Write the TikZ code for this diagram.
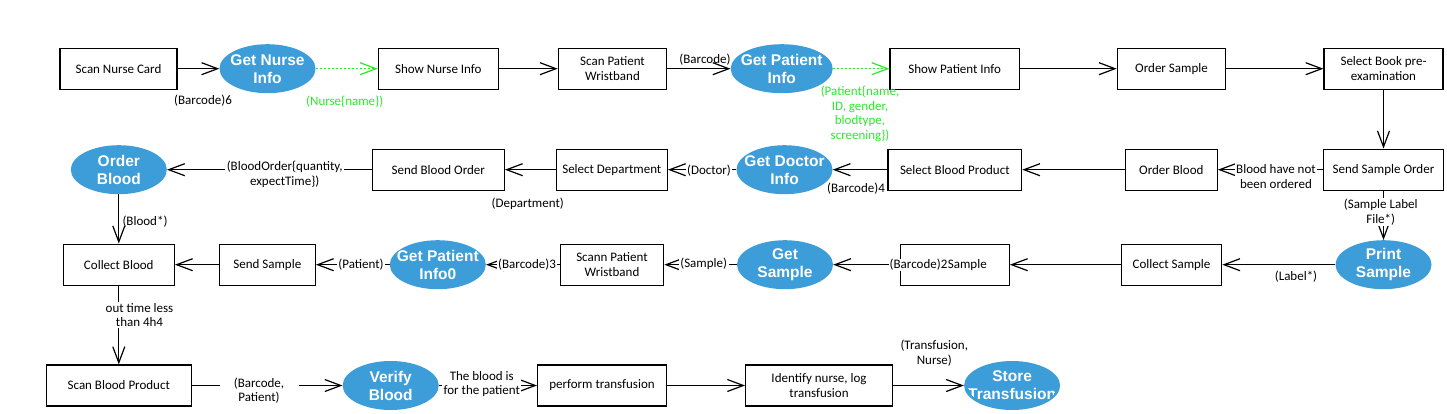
\documentclass[tikz,border=0pt]{standalone}
\usepackage{fontspec}
\setmainfont{Carlito}
\newfontfamily\ellfont{Liberation Sans}
\usetikzlibrary{arrows.meta,shapes.geometric}
\definecolor{ellblue}{RGB}{60,157,216}
\definecolor{lime}{RGB}{40,235,40}
\begin{document}
\begin{tikzpicture}[x=1pt,y=-1pt,
  every node/.style={font=\fontsize{13}{14.5}\selectfont, inner sep=0pt},
  box/.style={draw, line width=1.2pt, minimum height=41pt, align=center},
  elltext/.style={text=white, align=center, font=\ellfont\bfseries\fontsize{15.5}{18}\selectfont},
  ell/.style={ellipse, fill=ellblue, minimum width=96pt, minimum height=49pt,
    path picture={\node[elltext] at (path picture bounding box.center) {#1};}},
  clipell/.style={ellipse, fill=ellblue, minimum width=96pt, minimum height=49pt,
    path picture={\clip (path picture bounding box.center) ellipse [x radius=44.5pt, y radius=23pt];
      \node[elltext] at (path picture bounding box.center) {#1};}},
  conn/.style={line width=1.2pt, -{Straight Barb[length=16pt,width=12pt,line width=1.2pt]}},
  dconn/.style={conn, lime, dash pattern=on 2pt off 2pt},
  lab/.style={align=center},
  wlab/.style={align=center, fill=white, inner sep=1.5pt},
  glab/.style={align=center, text=lime}
]
\useasboundingbox (0,0) rectangle (1447,414);
% row 1
\node[box, minimum width=117pt] (snc) at (118.5,68.7) {Scan Nurse Card};
\node[ell={Get Nurse\\Info}] (gni) at (267.5,68.7) {};
\node[box, minimum width=120pt] (sni) at (438.3,68.7) {Show Nurse Info};
\node[box, minimum width=108.4pt] (spw) at (612.5,68.7) {Scan Patient\\Wristband};
\node[ell={Get Patient\\Info}, minimum width=102pt] (gpi) at (781.7,68.7) {};
\node[box, minimum width=129.3pt] (spi) at (954.7,68.7) {Show Patient Info};
\node[box, minimum width=108.4pt] (os) at (1171.5,68.7) {Order Sample};
\node[box, minimum width=119pt] (sbp) at (1383.5,68.7) {Select Book pre-\\examination};
% row 2
\node[ell={Order\\Blood}] (ob) at (118.8,169.7) {};
\node[box, minimum width=132pt] (sbo) at (438.3,169.7) {Send Blood Order};
\node[box, minimum width=111pt] (sd) at (611.8,169.7) {Select Department};
\node[ell={Get Doctor\\Info}] (gdi) at (784.5,169.7) {};
\node[box, minimum width=133.7pt] (sbpr) at (954.8,169.7) {Select Blood Product};
\node[box, minimum width=92pt] (obx) at (1171.3,169.7) {Order Blood};
\node[box, minimum width=120pt] (sso) at (1383.5,169.7) {Send Sample Order};
% row 3
\node[box, minimum width=111pt] (cb) at (118.8,264.7) {Collect Blood};
\node[box, minimum width=96pt] (ss) at (267.3,264.7) {Send Sample};
\node[ell={Get Patient\\Info0}] (gpi0) at (437.8,264.7) {};
\node[box, minimum width=103.4pt] (spw2) at (612,264.7) {Scann Patient\\Wristband};
\node[ell={Get\\Sample}] (gs) at (785,264.7) {};
\node[box, minimum width=109pt] (sam) at (954.8,264.7) {\hspace*{25pt}Sample};
\node[box, minimum width=100.4pt] (cs) at (1171.5,264.7) {Collect Sample};
\node[ell={Print\\Sample}] (ps) at (1383.5,264.7) {};
% row 4
\node[box, minimum width=145.4pt] (sbpd) at (118.8,385.5) {Scan Blood Product};
\node[ell={Verify\\Blood}] (vb) at (390.7,385.5) {};
\node[box, minimum width=128.9pt] (pt) at (602,385.5) {perform transfusion};
\node[box, minimum width=146.7pt] (inl) at (819,385.5) {Identify nurse, log\\transfusion};
\node[clipell={Store\\Transfusion}] (st) at (1012.1,385.5) {};
% connectors
\draw[conn] (snc) -- (gni);
\draw[dconn] (gni) -- (sni);
\draw[conn] (sni) -- (spw);
\draw[conn] (spw) -- (gpi);
\draw[dconn] (gpi) -- (spi);
\draw[conn] (spi) -- (os);
\draw[conn] (os) -- (sbp);
\draw[conn] (sbp) -- (sso);
\draw[conn] (sso) -- (obx);
\draw[conn] (obx) -- (sbpr);
\draw[conn] (sbpr) -- (gdi);
\draw[conn] (gdi) -- (sd);
\draw[conn] (sd) -- (sbo);
\draw[conn] (sbo) -- (ob);
\draw[conn] (ob) -- (cb);
\draw[conn] (sso) -- (ps);
\draw[conn] (ps) -- (cs);
\draw[conn] (cs) -- (sam);
\draw[conn] (sam) -- (gs);
\draw[conn] (gs) -- (spw2);
\draw[conn] (spw2) -- (gpi0);
\draw[conn] (gpi0) -- (ss);
\draw[conn] (ss) -- (cb);
\draw[conn] (cb) -- (sbpd);
\draw[conn] (sbpd) -- (vb);
\draw[conn] (vb) -- (pt);
\draw[conn] (pt) -- (inl);
\draw[conn] (inl) -- (st);
% labels
\node[lab] (l1) at (203,101) {(Barcode)6};
\node[glab] (l2) at (344.7,101.7) {(Nurse\{name\})};
\node[lab] (l3) at (705,60) {(Barcode)};
\node[glab] (l4) at (860,113.7) {(Patient\{name,\\ID, gender,\\blodtype,\\screening\})};
\node[wlab] (l5) at (1276,176.7) {Blood have not\\been ordered};
\node[lab] (l6) at (856,188.3) {(Barcode)4};
\node[wlab] (l7) at (709,170.7) {(Doctor)};
\node[lab] (l8) at (527.7,203.3) {(Department)};
\node[wlab] (l9) at (284.7,174.2) {(BloodOrder\{quantity,\\expectTime\})};
\node[lab] (l10) at (145,221.7) {(Blood*)};
\node[wlab] (l11) at (1380.7,212) {(Sample Label\\File*)};
\node[lab] (l12) at (1296,276.7) {(Label*)};
\node[wlab, inner sep=0.5pt] (l13) at (918.5,264.7) {(Barcode)2};
\node[wlab] (l14) at (703.7,263.5) {(Sample)};
\node[wlab] (l15) at (527,264.2) {(Barcode)3};
\node[wlab] (l16) at (361,264.2) {(Patient)};
\node[wlab] (l17) at (139.5,315) {out time less\\than 4h4};
\node[wlab, text width=76pt] (l18) at (259,390.5) {(Barcode,\\Patient)};
\node[wlab] (l19) at (481.8,383.8) {The blood is\\for the patient};
\node[lab] (l20) at (934.3,353.3) {(Transfusion,\\Nurse)};
\end{tikzpicture}
\end{document}
